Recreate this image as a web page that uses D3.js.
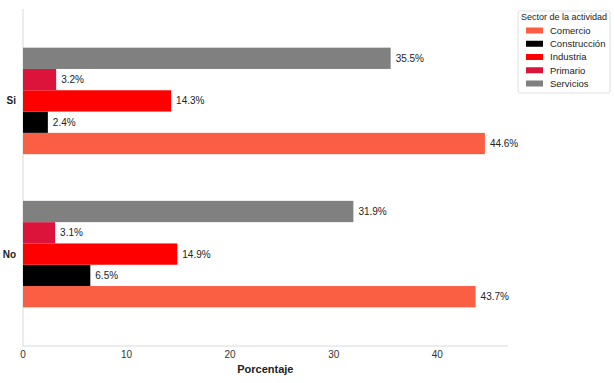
<!DOCTYPE html>
<html><head><meta charset="utf-8">
<script src="https://cdn.jsdelivr.net/npm/d3@7"></script>
<style>body{margin:0;background:#fff;} text{font-family:"Liberation Sans",Arial,sans-serif;}</style>
</head><body>
<svg id="c" width="615" height="383"></svg>
<script>
const categories = ["Si", "No"];
const sectors = ["Comercio", "Construcción", "Industria", "Primario", "Servicios"];
const colors = ["#FA5E43", "#000000", "#FF0000", "#DC143C", "#808080"];
const valuesSi = [44.6, 2.4, 14.3, 3.2, 35.5];
const valuesNo = [43.7, 6.5, 14.9, 3.1, 31.9];
const xTicks = [0, 10, 20, 30, 40];

const svg = d3.select("#c");
const x = d3.scaleLinear().domain([0, 46.83]).range([23, 508]);
const y = d3.scaleLinear().domain([-0.6, 1.6]).range([9, 346]);
const step = 21.3;

// spines
svg.append("line").attr("x1", 23).attr("x2", 23).attr("y1", y(-0.6)).attr("y2", y(1.6)).attr("stroke", "#d9d9d9").attr("stroke-width", 1);
svg.append("line").attr("x1", 23).attr("x2", x(46.83)).attr("y1", y(1.6)).attr("y2", y(1.6)).attr("stroke", "#d9d9d9").attr("stroke-width", 1);

const data = [];
[valuesSi, valuesNo].forEach((vals, ci) => {
  vals.forEach((v, si) => data.push({cat: ci, sector: si, v}));
});
const nS = sectors.length;
const g = svg.append("g");
data.forEach(d => {
  const yc = y(d.cat) + (2 - d.sector) * step; // Comercio at bottom
  g.append("rect").attr("x", x(0)).attr("y", yc - step / 2).attr("width", x(d.v) - x(0)).attr("height", step)
    .attr("fill", colors[d.sector]);
  g.append("text").attr("x", x(d.v) + 5).attr("y", yc).attr("dy", "0.35em").attr("font-size", 10).attr("fill", "#222")
    .text(d.v.toFixed(1) + "%");
});

// y tick labels
categories.forEach((c, i) => {
  svg.append("text").attr("x", 16).attr("y", y(i)).attr("dy", "0.35em").attr("text-anchor", "end")
    .attr("font-size", 10).attr("font-weight", "bold").attr("fill", "#222").text(c);
});
// x ticks
xTicks.forEach(t => {
  svg.append("text").attr("x", x(t)).attr("y", 358).attr("text-anchor", "middle").attr("font-size", 10)
    .attr("fill", "#333").text(t);
});
svg.append("text").attr("x", x(23.4)).attr("y", 373).attr("text-anchor", "middle").attr("font-size", 11)
  .attr("font-weight", "bold").attr("fill", "#222").text("Porcentaje");

// legend
const lg = svg.append("g");
lg.append("rect").attr("x", 518).attr("y", 11).attr("width", 92).attr("height", 82).attr("rx", 2)
  .attr("fill", "#fff").attr("stroke", "#e0e0e0");
lg.append("text").attr("x", 564).attr("y", 20).attr("text-anchor", "middle").attr("font-size", 9)
  .attr("fill", "#222").text("Sector de la actividad");
sectors.forEach((s, i) => {
  const yy = 30.5 + i * 13.25;
  lg.append("rect").attr("x", 526).attr("y", yy - 3).attr("width", 17).attr("height", 6).attr("fill", colors[i]);
  lg.append("text").attr("x", 550).attr("y", yy).attr("dy", "0.35em").attr("font-size", 9.5).attr("fill", "#222").text(s);
});
</script>
</body></html>
